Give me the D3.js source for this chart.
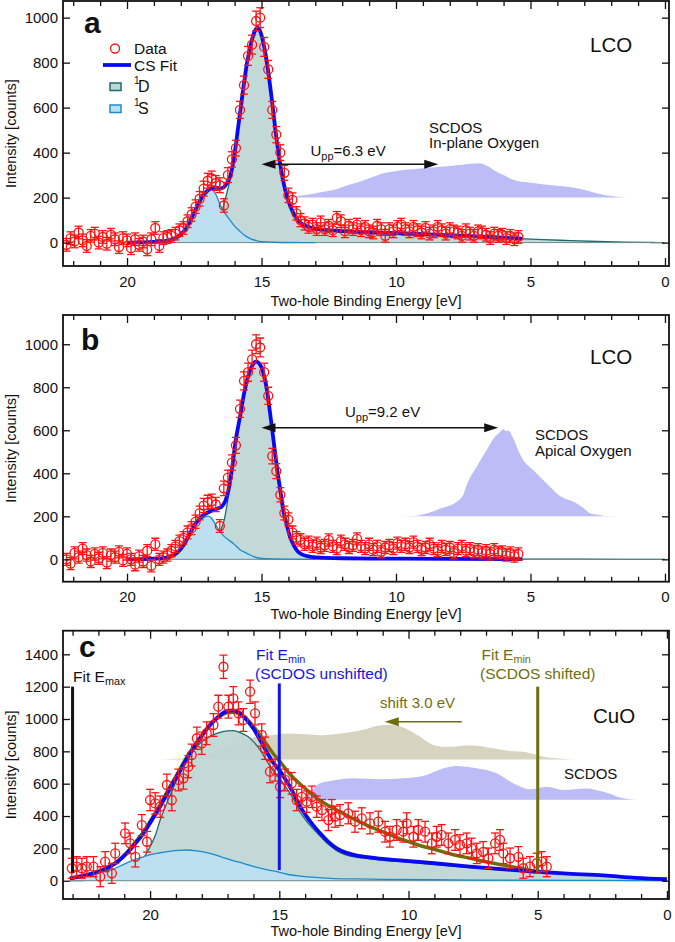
<!DOCTYPE html>
<html>
<head>
<meta charset="utf-8">
<script src="https://cdn.jsdelivr.net/npm/d3@7"></script>
<style>
  body { margin: 0; background: #fff; }
  svg text { font-family: "Liberation Sans", Arial, sans-serif; fill: #111; }
</style>
</head>
<body>
<div id="chart"></div>
<script>
// ---------- data: [energy eV, counts, error] ----------
const dataA = [
  [22.25,-10,28],[22.10,20,28],[21.95,5,28],[21.80,45,28],[21.65,10,28],[21.50,-15,28],[21.35,30,28],[21.20,40,28],
  [21.05,0,28],[20.90,25,28],[20.75,-5,28],[20.60,35,28],[20.45,15,28],[20.30,-20,28],[20.15,20,28],[20.00,10,28],
  [19.85,-25,28],[19.70,15,28],[19.55,-10,28],[19.40,5,28],[19.25,-30,28],[19.10,15,28],[18.95,65,28],[18.80,-15,28],
  [18.65,20,28],[18.50,25,28],[18.35,30,28],[18.20,40,28],[18.05,55,28],[17.90,65,28],[17.75,95,28],[17.60,125,30],
  [17.45,160,30],[17.30,195,32],[17.15,240,33],[17.00,275,33],[16.85,285,33],[16.70,265,33],[16.55,255,33],[16.40,165,30],
  [16.25,300,33],[16.10,370,34],[15.95,420,35],[15.80,590,38],[15.65,700,40],[15.50,830,42],[15.35,880,42],[15.20,985,44],
  [15.05,1000,44],[14.90,870,42],[14.75,770,40],[14.60,590,38],[14.45,480,36],[14.30,400,35],[14.15,310,33],[14.00,210,32],
  [13.85,190,31],[13.70,130,30],[13.55,100,29],[13.40,85,29],[13.25,70,28],[13.10,80,28],[12.95,60,28],[12.80,90,28],
  [12.65,60,28],[12.50,75,28],[12.35,55,28],[12.20,110,28],[12.05,95,28],[11.90,50,28],[11.75,75,28],[11.60,60,28],
  [11.45,80,28],[11.30,55,28],[11.15,70,28],[11.00,50,28],[10.85,45,28],[10.70,75,28],[10.55,60,28],[10.40,30,28],
  [10.25,60,28],[10.10,50,28],[9.95,70,28],[9.80,80,28],[9.65,60,28],[9.50,50,28],[9.35,70,28],[9.20,55,28],
  [9.05,45,28],[8.90,65,28],[8.75,40,28],[8.60,50,28],[8.45,70,28],[8.30,55,28],[8.15,40,28],[8.00,60,28],
  [7.85,50,28],[7.70,45,28],[7.55,30,28],[7.40,55,28],[7.25,40,28],[7.10,30,28],[6.95,50,28],[6.80,45,28],
  [6.65,35,28],[6.50,20,28],[6.35,40,28],[6.20,30,28],[6.05,35,28],[5.90,20,28],[5.75,30,28],[5.60,15,28],[5.45,25,28]
];
const dataB = [
  [22.25,0,28],[22.10,-20,28],[21.95,30,28],[21.80,10,28],[21.65,50,28],[21.50,20,28],[21.35,-10,28],[21.20,25,28],
  [21.05,5,28],[20.90,30,28],[20.75,-15,28],[20.60,20,28],[20.45,10,28],[20.30,35,28],[20.15,-5,28],[20.00,25,28],
  [19.85,0,28],[19.70,-25,28],[19.55,15,28],[19.40,-10,28],[19.25,40,28],[19.10,-30,28],[18.95,70,28],[18.80,0,28],
  [18.65,10,28],[18.50,20,28],[18.35,40,28],[18.20,60,28],[18.05,85,28],[17.90,100,29],[17.75,125,30],[17.60,145,30],
  [17.45,175,31],[17.30,215,32],[17.15,250,33],[17.00,265,33],[16.85,270,33],[16.70,255,33],[16.55,155,30],[16.40,330,34],
  [16.25,380,35],[16.10,450,36],[15.95,530,37],[15.80,700,40],[15.65,830,42],[15.50,870,42],[15.35,930,43],[15.20,1000,44],
  [15.05,985,44],[14.90,870,42],[14.75,760,40],[14.60,480,36],[14.45,410,35],[14.30,300,33],[14.15,215,32],[14.00,185,31],
  [13.85,125,30],[13.70,100,29],[13.55,90,29],[13.40,70,28],[13.25,80,28],[13.10,60,28],[12.95,75,28],[12.80,55,28],
  [12.65,65,28],[12.50,90,28],[12.35,60,28],[12.20,50,28],[12.05,85,28],[11.90,70,28],[11.75,55,28],[11.60,65,28],
  [11.45,95,28],[11.30,60,28],[11.15,50,28],[11.00,70,28],[10.85,45,28],[10.70,60,28],[10.55,35,28],[10.40,55,28],
  [10.25,65,28],[10.10,50,28],[9.95,75,28],[9.80,60,28],[9.65,70,28],[9.50,55,28],[9.35,80,28],[9.20,60,28],
  [9.05,45,28],[8.90,55,28],[8.75,70,28],[8.60,50,28],[8.45,40,28],[8.30,60,28],[8.15,45,28],[8.00,55,28],
  [7.85,30,28],[7.70,50,28],[7.55,60,28],[7.40,40,28],[7.25,50,28],[7.10,35,28],[6.95,45,28],[6.80,30,28],
  [6.65,40,28],[6.50,25,28],[6.35,45,28],[6.20,30,28],[6.05,35,28],[5.90,20,28],[5.75,30,28],[5.60,15,28],[5.45,25,28]
];
const dataC = [
  [23.03,77,62],[22.84,87,62],[22.64,77,62],[22.45,87,62],[22.19,87,62],[21.93,25,62],[21.74,118,62],[21.48,46,62],
  [21.35,169,63],[20.97,293,64],[20.77,231,64],[20.57,148,63],[20.32,344,65],[20.12,241,64],[20.00,499,66],[19.80,478,66],
  [19.61,458,66],[19.35,592,67],[19.16,499,66],[18.90,623,67],[18.71,633,67],[18.52,705,68],[18.39,777,68],[18.19,881,69],
  [18.00,850,69],[17.81,912,70],[17.55,963,70],[17.36,1076,71],[17.16,1323,72],[16.97,1076,71],[16.78,1128,72],[16.58,1035,71],
  [16.39,994,70],[16.13,1169,72],[15.94,1035,71],[15.68,901,69],[15.55,819,69],[15.36,674,68],[15.16,684,68],[14.97,581,67],
  [14.78,623,67],[14.52,602,67],[14.33,499,66],[14.13,519,66],[13.94,489,66],[13.74,519,66],[13.55,458,66],[13.35,437,65],
  [13.10,375,65],[12.97,437,65],[12.84,396,65],[12.65,406,65],[12.33,417,65],[12.07,365,65],[11.81,386,65],[11.49,355,65],
  [11.17,365,65],[10.91,303,64],[10.72,272,64],[10.46,314,64],[10.20,303,64],[10.07,355,65],[9.81,272,64],[9.62,314,64],
  [9.36,303,64],[9.10,231,64],[8.91,272,64],[8.72,283,64],[8.46,231,64],[8.20,252,64],[8.01,221,64],[7.75,231,64],
  [7.56,200,63],[7.36,169,63],[7.11,179,63],[6.91,139,63],[6.65,231,64],[6.46,252,64],[6.33,169,63],[6.07,139,63],
  [5.75,148,63],[5.56,77,62],[5.30,87,62],[5.04,108,62],[4.85,118,62],[4.65,87,62]
];

// ---------- fit curves: [energy eV, counts] ----------
const fitA = [
  [20,0],[19.5,1],[19,3],[18.6,7],[18.3,15],[18.0,35],[17.8,65],[17.6,110],[17.4,160],[17.2,205],[17.0,232],[16.85,242],
  [16.7,244],[16.55,240],[16.4,246],[16.3,262],[16.15,300],[16.0,395],[15.85,530],[15.7,665],[15.55,790],[15.4,880],
  [15.25,940],[15.15,955],[15.05,940],[14.9,870],[14.75,760],[14.6,620],[14.45,470],[14.3,345],[14.15,250],[14.0,185],
  [13.85,140],[13.7,108],[13.55,88],[13.3,72],[13.0,62],[12.5,55],[12,51],[11,46],[10,42],[9,38],[8,33],[7,28],[6,22],[5.3,18]
];
const d1A = [
  [16.58,0],[16.56,118],[16.45,150],[16.3,215],[16.15,290],[16.0,390],[15.85,525],[15.7,660],[15.55,787],[15.4,878],
  [15.25,939],[15.15,954],[15.05,939],[14.9,869],[14.75,759],[14.6,619],[14.45,469],[14.3,344],[14.15,249],[14.0,184],
  [13.85,139],[13.7,107],[13.55,87],[13.3,71],[13.0,61],[12.5,54],[12,50],[11,45],[10,41],[9,37],[8,32],[7,27],[6,21],
  [5.3,17],[4.5,13],[3.5,9],[2.5,5],[1.5,2],[0.5,0.5],[0,0]
];
const s1A = [
  [20,0],[19.5,1],[19,3],[18.6,7],[18.3,15],[18.0,35],[17.8,65],[17.6,110],[17.4,160],[17.2,205],[17.0,230],[16.85,238],
  [16.7,215],[16.55,172],[16.4,138],[16.2,105],[16.05,80],[15.8,50],[15.6,30],[15.4,17],[15.2,9],[15.0,4],[14.5,1.5],[14,0.5],[13,0]
];
const fitB = [
  [20,0],[19.5,1],[19,3],[18.6,7],[18.4,12],[18.1,35],[17.9,66],[17.7,110],[17.5,158],[17.3,190],[17.15,207],[17.0,218],
  [16.8,229],[16.6,238],[16.48,245],[16.35,270],[16.23,322],[16.1,420],[15.95,560],[15.8,663],[15.65,770],[15.5,850],
  [15.35,900],[15.2,919],[15.05,905],[14.93,865],[14.8,790],[14.68,679],[14.55,550],[14.43,431],[14.3,320],[14.19,229],
  [14.05,155],[13.94,105],[13.8,65],[13.69,43],[13.57,28],[13.3,15],[13,9],[12,5],[10,3],[8,2],[5.3,1]
];
const d1B = [
  [16.53,0],[16.51,130],[16.4,175],[16.3,240],[16.2,320],[16.1,415],[15.95,556],[15.8,660],[15.65,768],[15.5,849],
  [15.35,899],[15.2,918],[15.05,904],[14.93,864],[14.8,789],[14.68,678],[14.55,549],[14.43,430],[14.3,319],[14.19,228],
  [14.05,154],[13.94,104],[13.8,64],[13.69,42],[13.57,27],[13.3,14],[13,8],[12,4.5],[10,2.5],[8,1.5],[5.3,1],[3,0.5],[0,0]
];
const s1B = [
  [20,0],[19.5,1],[19,3],[18.6,7],[18.4,12],[18.1,35],[17.9,66],[17.7,110],[17.5,150],[17.3,180],[17.1,197],[16.97,201],
  [16.85,190],[16.7,160],[16.55,130],[16.4,108],[16.2,88],[16.05,74],[15.8,45],[15.55,28],[15.3,13],[15.06,5],[14.5,1.5],[14,0.5],[13,0]
];
const fitC = [
  [23.1,15],[22.6,30],[22.2,46],[21.9,62],[21.55,87],[21.2,125],[20.9,170],[20.6,225],[20.26,293],[19.95,370],[19.61,458],
  [19.3,550],[18.97,643],[18.65,735],[18.32,819],[18.0,895],[17.68,963],[17.35,1015],[17.03,1049],[16.8,1053],[16.55,1040],
  [16.26,994],[16.0,940],[15.74,870],[15.5,800],[15.23,730],[14.97,678],[14.7,610],[14.45,540],[14.2,460],[14.0,410],
  [13.7,345],[13.42,293],[13.1,240],[12.78,200],[12.4,172],[12.0,155],[11.5,145],[11.0,135],[10.2,124],[9.0,108],
  [7.62,87],[6.3,70],[5.04,56],[4.0,45],[2.46,33],[1.2,18],[0,9]
];
const fitShiftC = [
  [23.1,15],[22.6,30],[22.2,46],[21.9,63],[21.55,89],[21.2,128],[20.9,175],[20.6,232],[20.26,302],[19.95,380],[19.61,470],
  [19.3,562],[18.97,655],[18.65,745],[18.32,828],[18.0,900],[17.68,962],[17.35,1010],[17.03,1038],[16.8,1042],[16.55,1032],
  [16.26,1000],[16.0,955],[15.74,900],[15.5,845],[15.23,785],[14.97,736],[14.6,660],[14.07,581],[13.5,505],[12.78,437],
  [12.1,380],[11.49,334],[10.8,290],[10.2,252],[9.5,215],[8.91,190],[8.3,162],[7.62,139],[7.0,117],[6.33,97],[5.6,75],[5.04,56]
];
const d1C = [
  [23.1,0],[22.5,3],[22.0,8],[21.5,20],[21.0,45],[20.5,90],[20.3,130],[20.07,190],[19.8,280],[19.61,375],[19.3,500],
  [18.97,623],[18.65,720],[18.32,808],[18.0,860],[17.68,893],[17.3,918],[17.0,927],[16.78,928],[16.5,915],[16.2,890],
  [16.0,860],[15.75,810],[15.5,745],[15.23,678],[14.97,630],[14.7,568],[14.45,505],[14.2,425],[14.0,380],[13.7,322],
  [13.42,276],[13.1,225],[12.78,186],[12.4,158],[12.0,144],[11.5,135],[11.0,126],[10.2,116],[9.0,101],[7.62,81],
  [6.3,65],[5.04,52],[4.0,42],[2.46,31],[1.2,17],[0,8]
];
const s1C = [
  [23.1,12],[22.6,25],[22.2,38],[21.9,52],[21.55,66],[21.2,88],[20.9,110],[20.6,130],[20.26,148],[19.95,163],[19.61,173],
  [19.2,183],[18.9,188],[18.58,190],[18.2,185],[17.68,169],[17.2,145],[16.8,125],[16.39,108],[16.0,88],[15.5,68],
  [15.1,56],[14.7,40],[14.2,29],[13.7,22],[13.0,15],[12.0,11],[11.0,8],[9.0,6],[7.0,4],[5.0,3],[3.0,2],[0,1]
];

// ---------- SCDOS (offset curves) ----------
const dosA = [
  [15.2,200],[14.5,203],[13.9,205],[13.45,210],[12.9,222],[12.33,234],[11.8,255],[11.34,271],[10.9,290],[10.47,308],
  [10.1,316],[9.73,323],[9.35,326],[8.99,331],[8.6,334],[8.24,338],[7.9,342],[7.62,345],[7.2,350],[6.88,353],[6.6,340],
  [6.38,323],[6.0,300],[5.64,279],[5.4,272],[5.14,268],[4.7,262],[4.28,256],[3.8,250],[3.28,242],[2.9,232],[2.54,219],
  [2.2,210],[1.8,204],[1.4,201],[1.05,200]
];
const dosB = [
  [10.6,200],[9.36,201],[8.8,215],[8.36,236],[7.74,268],[7.5,300],[7.37,346],[7.0,431],[6.63,508],[6.32,570],[6.15,590],
  [6.01,605],[5.9,596],[5.83,599],[5.64,563],[5.45,505],[5.27,462],[4.9,415],[4.4,353],[3.9,294],[3.28,260],[3.0,235],
  [2.79,214],[2.4,205],[2.17,202],[1.3,200]
];
const dosC = [
  [14.1,500],[13.9,530],[13.42,602],[12.78,623],[12.14,633],[11.1,627],[10.2,633],[9.3,654],[8.65,695],[8.14,709],
  [7.36,695],[6.59,664],[5.95,602],[5.3,565],[4.65,581],[4.01,561],[3.11,571],[2.46,550],[1.69,510],[1.17,500]
];
const dosShiftC = [
  [19.7,750],[18.5,760],[17.5,800],[16.5,860],[15.8,893],[15.36,900],[14.71,911],[14.0,905],[13.42,900],[12.8,908],
  [12.14,921],[11.6,940],[11.2,958],[10.9,963],[10.72,963],[10.2,948],[9.8,915],[9.55,890],[9.04,839],[8.6,828],
  [8.27,829],[7.8,836],[7.36,835],[6.8,820],[6.33,808],[5.9,800],[5.56,798],[5.1,780],[4.79,767],[4.3,757],[4.01,753],[3.5,750]
];

const xMajor = [0, 5, 10, 15, 20];
const yTicksLCO = [0, 200, 400, 600, 800, 1000];
const yTicksCuO = [0, 200, 400, 600, 800, 1000, 1200, 1400];

// ---------- styling ----------
const col = {
  data: "#ff1212", fit: "#0a0af2", d1Fill: "#bed6d5", d1Line: "#1d6c6d",
  s1Fill: "#bde0f0", s1Line: "#1a8ccc", dos: "#bcbcf7", dosShift: "#d6d4be",
  olive: "#6e6e0c", emin: "#1414e6"
};

const svg = d3.select("#chart").append("svg")
  .attr("width", 675).attr("height", 942);

const defs = svg.append("defs");

function arrow(g, x1, y1, x2, y2, color, both) {
  const dir = Math.sign(x2 - x1);
  const L = 14, hw = 4.5;
  g.append("line")
    .attr("x1", x1 + (both ? dir * L * 0.8 : 0)).attr("x2", x2 - dir * L * 0.8)
    .attr("y1", y1).attr("y2", y2)
    .attr("stroke", color).attr("stroke-width", 1.6);
  const head = (tx, d) => g.append("path")
    .attr("d", `M${tx},${y2} L${tx - d * L},${y2 - hw} L${tx - d * L},${y2 + hw} Z`)
    .attr("fill", color);
  head(x2, dir);
  if (both) head(x1, -dir);
}

function drawPanel(p) {
  const x = d3.scaleLinear().domain(p.xDomain).range([p.left, p.right]);
  const y = d3.scaleLinear().domain(p.yDomain).range([p.bottom, p.top]);
  const g = svg.append("g");

  defs.append("clipPath").attr("id", "clip-" + p.id)
    .append("rect").attr("x", p.left).attr("y", p.top)
    .attr("width", p.right - p.left).attr("height", p.bottom - p.top);
  const plot = g.append("g").attr("clip-path", `url(#clip-${p.id})`);

  const area = base => d3.area().x(d => x(d[0])).y0(y(base)).y1(d => y(d[1])).curve(d3.curveMonotoneX);
  const line = d3.line().x(d => x(d[0])).y(d => y(d[1])).curve(d3.curveMonotoneX);

  // SCDOS fills
  p.dos.forEach(s => {
    plot.append("path").datum(s.values).attr("d", area(s.base)).attr("fill", s.color);
  });

  // components: 1D below, 1S on top
  plot.append("path").datum(p.d1).attr("d", area(0)).attr("fill", col.d1Fill).attr("opacity", 0.93);
  plot.append("path").datum(p.d1).attr("d", line).attr("fill", "none")
    .attr("stroke", col.d1Line).attr("stroke-width", 1.3);
  plot.append("path").datum(p.s1).attr("d", area(0)).attr("fill", col.s1Fill);
  plot.append("line")
    .attr("x1", x(p.s1[0][0])).attr("x2", x(0))
    .attr("y1", y(0)).attr("y2", y(0))
    .attr("stroke", "#6d8a8a").attr("stroke-width", 1);
  plot.append("path").datum(p.s1).attr("d", line).attr("fill", "none")
    .attr("stroke", col.s1Line).attr("stroke-width", 1.3);

  // fits
  if (p.fitShift) {
    plot.append("path").datum(p.fitShift).attr("d", line).attr("fill", "none")
      .attr("stroke", col.olive).attr("stroke-width", 3.5);
  }
  plot.append("path").datum(p.fit).attr("d", line).attr("fill", "none")
    .attr("stroke", col.fit).attr("stroke-width", 3.8);

  // data with error bars
  const pts = plot.append("g").attr("stroke", col.data).attr("fill", "none").attr("stroke-width", 1.3);
  p.data.forEach(d => {
    const cx = x(d[0]), y1 = y(d[1] - d[2]), y2 = y(d[1] + d[2]);
    pts.append("line").attr("x1", cx).attr("x2", cx).attr("y1", y1).attr("y2", y2);
    pts.append("line").attr("x1", cx - 4).attr("x2", cx + 4).attr("y1", y1).attr("y2", y1);
    pts.append("line").attr("x1", cx - 4).attr("x2", cx + 4).attr("y1", y2).attr("y2", y2);
    pts.append("circle").attr("cx", cx).attr("cy", y(d[1])).attr("r", 4.5);
  });

  // axes (inward ticks)
  const xMax = Math.floor(p.xDomain[0]);
  const xMinor = d3.range(0, xMax + 1).filter(v => !xMajor.includes(v));
  const styleAxis = sel => {
    sel.select(".domain").remove();
    sel.selectAll("line").attr("stroke", "#111").attr("stroke-width", 1.3);
  };
  g.append("g").attr("transform", `translate(0,${p.bottom})`)
    .call(d3.axisBottom(x).tickValues(xMajor).tickSize(-8).tickPadding(10).tickFormat(d3.format("d")))
    .call(styleAxis)
    .selectAll("text").attr("font-size", 15).attr("fill", "#111");
  g.append("g").attr("transform", `translate(0,${p.bottom})`)
    .call(d3.axisBottom(x).tickValues(xMinor).tickSize(-5).tickFormat(""))
    .call(styleAxis);
  g.append("g").attr("transform", `translate(0,${p.top})`)
    .call(d3.axisTop(x).tickValues(xMajor).tickSize(-8).tickFormat(""))
    .call(styleAxis);
  g.append("g").attr("transform", `translate(0,${p.top})`)
    .call(d3.axisTop(x).tickValues(xMinor).tickSize(-5).tickFormat(""))
    .call(styleAxis);
  g.append("g").attr("transform", `translate(${p.left},0)`)
    .call(d3.axisLeft(y).tickValues(p.yTicks).tickSize(-7).tickPadding(5).tickFormat(d3.format("d")))
    .call(styleAxis)
    .selectAll("text").attr("font-size", 15).attr("fill", "#111");
  g.append("g").attr("transform", `translate(${p.right},0)`)
    .call(d3.axisRight(y).tickValues(p.yTicks).tickSize(-7).tickFormat(""))
    .call(styleAxis);

  g.append("rect")
    .attr("x", p.left).attr("y", p.top)
    .attr("width", p.right - p.left).attr("height", p.bottom - p.top)
    .attr("fill", "none").attr("stroke", "#111").attr("stroke-width", 1.8);

  // axis titles
  g.append("text")
    .attr("x", (p.left + p.right) / 2).attr("y", p.titleY)
    .attr("text-anchor", "middle").attr("font-size", 14.5)
    .text("Two-hole Binding Energy [eV]");
  g.append("text")
    .attr("transform", `translate(15.5,${(p.top + p.bottom) / 2}) rotate(-90)`)
    .attr("text-anchor", "middle").attr("font-size", 14.5)
    .text("Intensity [counts]");

  // panel letter and sample name
  g.append("text").attr("x", p.letterX).attr("y", p.letterY)
    .attr("font-size", 30).attr("font-weight", "bold").text(p.id);
  g.append("text").attr("x", p.sampleX).attr("y", p.sampleY)
    .attr("font-size", 20.5).text(p.sample);

  return { g, x, y };
}

function subText(g, px, py, main, sub, size, color) {
  const t = g.append("text").attr("x", px).attr("y", py).attr("font-size", size).style("fill", color || "#111");
  t.append("tspan").text(main);
  t.append("tspan").attr("font-size", size * 0.7).attr("dy", 3).text(sub);
  return t;
}

// ---------- panel a ----------
const A = drawPanel({
  id: "a", left: 63, right: 669, top: 1, bottom: 266,
  xDomain: [22.38, -0.15], yDomain: [-104, 1074], yTicks: yTicksLCO,
  data: dataA, fit: fitA, d1: d1A, s1: s1A,
  dos: [{ values: dosA, base: 200, color: col.dos }],
  titleY: 306, letterX: 84, letterY: 33, sample: "LCO", sampleX: 590, sampleY: 52
});
arrow(A.g, A.x(15.0), A.y(348), A.x(8.43), A.y(348), "#111", true);
const ua = A.g.append("text").attr("x", 310.5).attr("y", 156).attr("font-size", 15);
ua.append("tspan").text("U");
ua.append("tspan").attr("font-size", 11).attr("dy", 4).text("pp");
ua.append("tspan").attr("dy", -4).text("=6.3 eV");
A.g.append("text").attr("x", 429).attr("y", 132.5).attr("font-size", 15).text("SCDOS");
A.g.append("text").attr("x", 429).attr("y", 148).attr("font-size", 15).text("In-plane Oxygen");

// legend
const lg = A.g.append("g");
lg.append("circle").attr("cx", 115).attr("cy", 48.5).attr("r", 4.5)
  .attr("fill", "none").attr("stroke", col.data).attr("stroke-width", 1.3);
lg.append("text").attr("x", 134).attr("y", 54).attr("font-size", 15.5).text("Data");
lg.append("line").attr("x1", 103).attr("x2", 131).attr("y1", 65).attr("y2", 65)
  .attr("stroke", col.fit).attr("stroke-width", 3.8);
lg.append("text").attr("x", 134).attr("y", 70.5).attr("font-size", 15.5).text("CS Fit");
lg.append("rect").attr("x", 110).attr("y", 83).attr("width", 11).attr("height", 7.5)
  .attr("fill", col.d1Fill).attr("stroke", col.d1Line).attr("stroke-width", 1.5);
lg.append("text").attr("x", 134).attr("y", 83.5).attr("font-size", 10).text("1");
lg.append("text").attr("x", 138).attr("y", 91.5).attr("font-size", 16).text("D");
lg.append("rect").attr("x", 110).attr("y", 105).attr("width", 11).attr("height", 7.5)
  .attr("fill", col.s1Fill).attr("stroke", col.s1Line).attr("stroke-width", 1.5);
lg.append("text").attr("x", 134).attr("y", 106).attr("font-size", 10).text("1");
lg.append("text").attr("x", 138).attr("y", 114).attr("font-size", 16).text("S");

// ---------- panel b ----------
const B = drawPanel({
  id: "b", left: 63, right: 669, top: 315, bottom: 581.7,
  xDomain: [22.38, -0.15], yDomain: [-104, 1136], yTicks: yTicksLCO,
  data: dataB, fit: fitB, d1: d1B, s1: s1B,
  dos: [{ values: dosB, base: 200, color: col.dos }],
  titleY: 619, letterX: 81, letterY: 350, sample: "LCO", sampleX: 590, sampleY: 363.5
});
arrow(B.g, B.x(15.0), B.y(612), B.x(6.2), B.y(612), "#111", true);
const ub = B.g.append("text").attr("x", 345).attr("y", 417).attr("font-size", 15);
ub.append("tspan").text("U");
ub.append("tspan").attr("font-size", 11).attr("dy", 4).text("pp");
ub.append("tspan").attr("dy", -4).text("=9.2 eV");
B.g.append("text").attr("x", 535).attr("y", 440).attr("font-size", 15).text("SCDOS");
B.g.append("text").attr("x", 535).attr("y", 456).attr("font-size", 15).text("Apical Oxygen");

// ---------- panel c ----------
const C = drawPanel({
  id: "c", left: 63, right: 669, top: 630.7, bottom: 899,
  xDomain: [23.37, -0.08], yDomain: [-113, 1546], yTicks: yTicksCuO,
  data: dataC, fit: fitC, fitShift: fitShiftC, d1: d1C, s1: s1C,
  dos: [{ values: dosShiftC, base: 750, color: col.dosShift }, { values: dosC, base: 500, color: col.dos }],
  titleY: 936, letterX: 79, letterY: 657, sample: "CuO", sampleX: 593, sampleY: 723
});
// fit window markers
C.g.append("line").attr("x1", C.x(23.0)).attr("x2", C.x(23.0)).attr("y1", C.y(1200)).attr("y2", C.y(50))
  .attr("stroke", "#111").attr("stroke-width", 3);
C.g.append("line").attr("x1", C.x(15.0)).attr("x2", C.x(15.0)).attr("y1", C.y(1220)).attr("y2", C.y(66))
  .attr("stroke", col.emin).attr("stroke-width", 3);
C.g.append("line").attr("x1", C.x(5.0)).attr("x2", C.x(5.0)).attr("y1", C.y(1200)).attr("y2", C.y(56))
  .attr("stroke", col.olive).attr("stroke-width", 3);
subText(C.g, 73, 681.5, "Fit E", "max", 15.5, "#111");
subText(C.g, 256, 660, "Fit E", "min", 15.5, col.emin);
C.g.append("text").attr("x", 255).attr("y", 679).attr("font-size", 15.5).style("fill", col.emin).text("(SCDOS unshifted)");
subText(C.g, 481.5, 660, "Fit E", "min", 15.5, col.olive);
C.g.append("text").attr("x", 480).attr("y", 679).attr("font-size", 15.5).style("fill", col.olive).text("(SCDOS shifted)");
C.g.append("text").attr("x", 380).attr("y", 708).attr("font-size", 15).style("fill", col.olive).text("shift 3.0 eV");
arrow(C.g, C.x(7.94), C.y(983), C.x(10.92), C.y(983), col.olive, false);
C.g.append("text").attr("x", 564).attr("y", 778.5).attr("font-size", 15).text("SCDOS");
</script>
</body>
</html>
